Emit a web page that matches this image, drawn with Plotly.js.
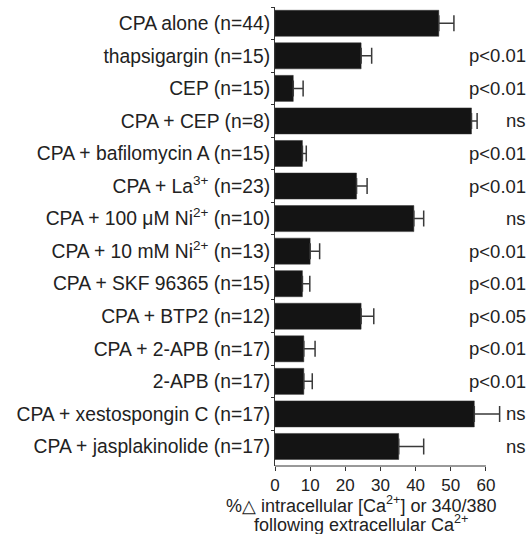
<!DOCTYPE html>
<html>
<head>
<meta charset="utf-8">
<script src="https://cdn.plot.ly/plotly-3.0.1.min.js"></script>
<style>html,body{margin:0;padding:0;background:#fff;}</style>
</head>
<body>
<div id="chart" style="width:531px;height:534px;"></div>
<script>
const categories = [
  "CPA alone (n=44)",
  "thapsigargin (n=15)",
  "CEP (n=15)",
  "CPA + CEP (n=8)",
  "CPA + bafilomycin A (n=15)",
  "CPA + La<sup>3+</sup> (n=23)",
  "CPA + 100 μM Ni<sup>2+</sup> (n=10)",
  "CPA + 10 mM Ni<sup>2+</sup> (n=13)",
  "CPA + SKF 96365 (n=15)",
  "CPA + BTP2 (n=12)",
  "CPA + 2-APB (n=17)",
  "2-APB (n=17)",
  "CPA + xestospongin C (n=17)",
  "CPA + jasplakinolide (n=17)"
];
const values = [46.6, 24.5, 5.2, 55.9, 7.8, 23.2, 39.5, 10.0, 7.8, 24.5, 8.2, 8.2, 56.7, 35.2];
const errors = [4.3, 3.0, 2.8, 1.6, 1.1, 3.0, 2.8, 2.7, 2.1, 3.6, 3.2, 2.4, 7.2, 7.1];
const pvalues = ["", "p<0.01", "p<0.01", "ns", "p<0.01", "p<0.01", "ns", "p<0.01", "p<0.01", "p<0.05", "p<0.01", "p<0.01", "ns", "ns"];
const xTicks = [0, 10, 20, 30, 40, 50, 60];
const titleLines = [
  "%△ intracellular [Ca<sup>2+</sup>] or 340/380",
  "following extracellular Ca<sup>2+</sup>"
];
const xMax = 60;      // end of drawn axis
const xRangeMax = 66; // room for the longest error bar

const FONT = "Liberation Sans, Arial, sans-serif";

const W = 531, H = 534;
const L = 275, T = 7, B = 68;
const axisEndPx = 485.7;
const plotW = (axisEndPx - L) * xRangeMax / xMax;
const R = W - L - plotW;
const plotH = H - T - B;
const px2paperX = px => (px - L) / plotW;
const px2paperY = py => (H - B - py) / plotH;

const trace = {
  type: "bar",
  orientation: "h",
  x: values,
  y: categories,
  marker: {color: "#141414", line: {color: "#333", width: 0.5}},
  width: 0.8,
  error_x: {
    type: "data",
    symmetric: false,
    array: errors,
    arrayminus: errors.map(() => 0),
    color: "#3a3a3a",
    thickness: 1.5,
    width: 8
  },
  hoverinfo: "none"
};

const annotations = pvalues.map((p, i) => ({
  text: p, x: px2paperX(528), xref: "paper", xanchor: "right",
  y: categories[i], yref: "y", yanchor: "middle",
  showarrow: false, font: {family: FONT, size: 18.5, color: "#222"}
})).filter(a => a.text !== "");

const titleY = [504, 523];
titleLines.forEach((t, i) => annotations.push({
  text: t,
  x: px2paperX(361), xref: "paper", xanchor: "center",
  y: px2paperY(titleY[i]), yref: "paper", yanchor: "middle", showarrow: false,
  font: {family: FONT, size: 18, color: "#222"}
}));

const layout = {
  width: W, height: H,
  margin: {l: L, r: R, t: T, b: B},
  paper_bgcolor: "#fff", plot_bgcolor: "#fff",
  showlegend: false,
  font: {family: FONT, color: "#222"},
  xaxis: {
    range: [0, xRangeMax],
    tickvals: xTicks,
    ticks: "outside", ticklen: 4, tickwidth: 1, tickcolor: "#333",
    showline: false,
    showgrid: false, zeroline: false,
    tickfont: {family: FONT, size: 17, color: "#222"}
  },
  yaxis: {
    type: "category",
    categoryorder: "array", categoryarray: categories,
    range: [13.6, -0.5],
    tickson: "boundaries",
    ticks: "outside", ticklen: 3, tickwidth: 1, tickcolor: "#333",
    showline: true, linecolor: "#333", linewidth: 1,
    showgrid: false, zeroline: false,
    tickfont: {family: FONT, size: 19.3, color: "#222"}
  },
  shapes: [{
    type: "line", xref: "x", yref: "paper",
    x0: 0, x1: xMax, y0: 0, y1: 0,
    line: {color: "#333", width: 1}
  }],
  annotations: annotations
};

Plotly.newPlot("chart", [trace], layout, {staticPlot: true, displayModeBar: false});
</script>
</body>
</html>
